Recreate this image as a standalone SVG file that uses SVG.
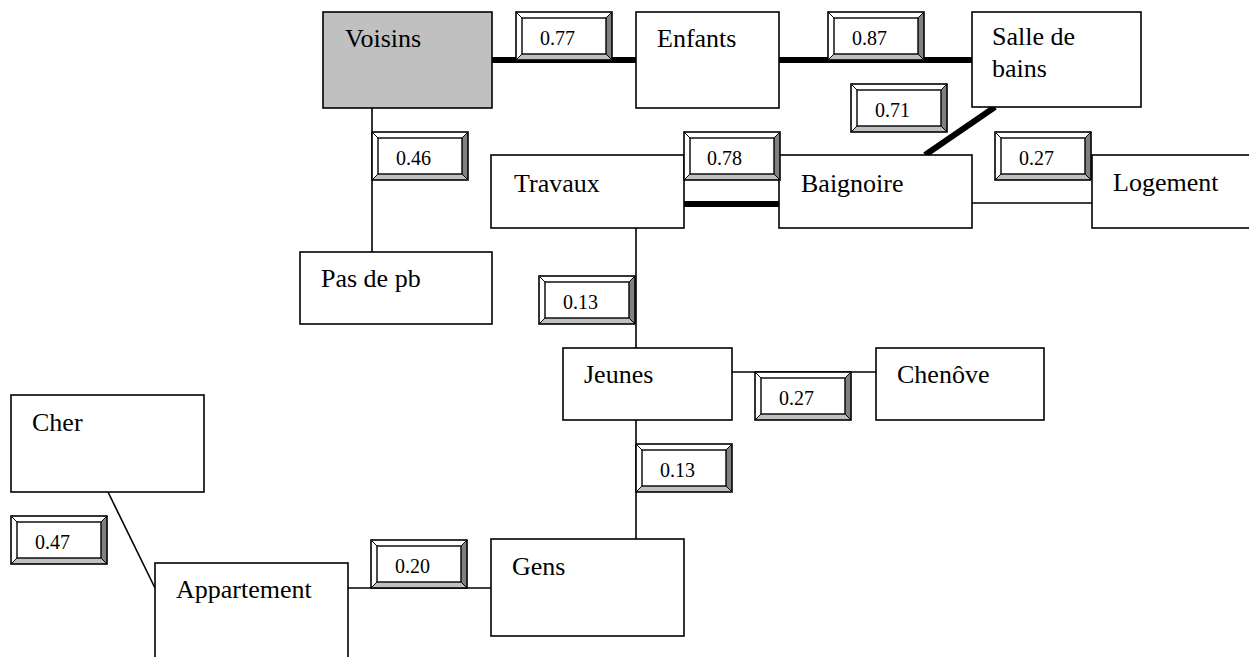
<svg xmlns="http://www.w3.org/2000/svg" xmlns:xlink="http://www.w3.org/1999/xlink" width="1249" height="657" viewBox="0 0 1249 657">
<style>
.node{fill:#fff;stroke:#000;stroke-width:1.6}
.grey{fill:#c0c0c0}
text{font-family:'Liberation Serif',serif;fill:#000}
.nt{font-size:26px}
.lt{font-size:20px}
.thin{stroke:#000;stroke-width:1.6;fill:none}
.thick{stroke:#000;stroke-width:6;fill:none}
</style>
<defs>
<g id="bev">
<polygon points="0,0 96,0 90,6 6,6" fill="#fff"/>
<polygon points="0,0 6,6 6,42 0,48" fill="#fff"/>
<polygon points="96,0 96,48 90,42 90,6" fill="#808080"/>
<polygon points="0,48 96,48 90,42 6,42" fill="#c0c0c0"/>
<rect x="6" y="6" width="84" height="36" fill="#fff" stroke="#000" stroke-width="1.4"/>
<path d="M0,0 L6,6 M96,0 L90,6 M96,48 L90,42 M0,48 L6,42" stroke="#000" stroke-width="1"/>
<rect x="0" y="0" width="96" height="48" fill="none" stroke="#000" stroke-width="1.6"/>
</g>
</defs>
<g id="connectors">
<line class="thick" x1="492" y1="60" x2="636" y2="60"/>
<line class="thick" x1="779" y1="60" x2="972" y2="60"/>
<line class="thick" x1="995" y1="107" x2="925" y2="155"/>
<line class="thick" x1="684" y1="204" x2="779" y2="204"/>
<line class="thin" x1="972" y1="203" x2="1092" y2="203"/>
<line class="thin" x1="372" y1="108" x2="372" y2="252"/>
<line class="thin" x1="636" y1="228" x2="636" y2="348"/>
<line class="thin" x1="732" y1="372" x2="876" y2="372"/>
<line class="thin" x1="636" y1="420" x2="636" y2="539"/>
<line class="thin" x1="348" y1="588" x2="491" y2="588"/>
<line class="thin" x1="108" y1="492" x2="155" y2="588"/>
</g>
<g id="n-voisins"><rect class="node grey" x="323" y="12" width="169" height="96"/><text class="nt" font-family="Liberation Serif" x="345" y="47">Voisins</text></g>
<g id="n-enfants"><rect class="node" x="636" y="12" width="143" height="96"/><text class="nt" font-family="Liberation Serif" x="657" y="47">Enfants</text></g>
<g id="n-salle"><rect class="node" x="972" y="12" width="169" height="95"/><text class="nt" font-family="Liberation Serif" x="992" y="45">Salle de</text><text class="nt" font-family="Liberation Serif" x="992" y="77">bains</text></g>
<g id="n-travaux"><rect class="node" x="491" y="155" width="193" height="73"/><text class="nt" font-family="Liberation Serif" x="514" y="192">Travaux</text></g>
<g id="n-baignoire"><rect class="node" x="779" y="155" width="193" height="73"/><text class="nt" font-family="Liberation Serif" x="801" y="192">Baignoire</text></g>
<g id="n-logement"><rect class="node" x="1092" y="155" width="170" height="73"/><text class="nt" font-family="Liberation Serif" x="1113" y="191">Logement</text></g>
<g id="n-pasdepb"><rect class="node" x="300" y="252" width="192" height="72"/><text class="nt" font-family="Liberation Serif" x="321" y="287">Pas de pb</text></g>
<g id="n-jeunes"><rect class="node" x="563" y="348" width="169" height="72"/><text class="nt" font-family="Liberation Serif" x="584" y="383">Jeunes</text></g>
<g id="n-chenove"><rect class="node" x="876" y="348" width="168" height="72"/><text class="nt" font-family="Liberation Serif" x="897" y="383">Chenôve</text></g>
<g id="n-cher"><rect class="node" x="11" y="395" width="193" height="97"/><text class="nt" font-family="Liberation Serif" x="32" y="431">Cher</text></g>
<g id="n-gens"><rect class="node" x="491" y="539" width="193" height="97"/><text class="nt" font-family="Liberation Serif" x="512" y="575">Gens</text></g>
<g id="n-appartement"><rect class="node" x="155" y="563" width="193" height="120"/><text class="nt" font-family="Liberation Serif" x="176" y="598">Appartement</text></g>
<g id="labels">
<g id="l-077"><use xlink:href="#bev" x="516" y="12"/><text class="lt" x="540" y="45">0.77</text></g>
<g id="l-087"><use xlink:href="#bev" x="828" y="12"/><text class="lt" x="852" y="45">0.87</text></g>
<g id="l-071"><use xlink:href="#bev" x="851" y="84"/><text class="lt" x="875" y="117">0.71</text></g>
<g id="l-078"><use xlink:href="#bev" x="684" y="132"/><text class="lt" x="707" y="165">0.78</text></g>
<g id="l-027a"><use xlink:href="#bev" x="995" y="132"/><text class="lt" x="1019" y="165">0.27</text></g>
<g id="l-046"><use xlink:href="#bev" x="372" y="132"/><text class="lt" x="396" y="165">0.46</text></g>
<g id="l-013a"><use xlink:href="#bev" x="539" y="276"/><text class="lt" x="563" y="309">0.13</text></g>
<g id="l-027b"><use xlink:href="#bev" x="755" y="372"/><text class="lt" x="779" y="405">0.27</text></g>
<g id="l-013b"><use xlink:href="#bev" x="636" y="444"/><text class="lt" x="660" y="477">0.13</text></g>
<g id="l-047"><use xlink:href="#bev" x="11" y="516"/><text class="lt" x="35" y="549">0.47</text></g>
<g id="l-020"><use xlink:href="#bev" x="371" y="540"/><text class="lt" x="395" y="573">0.20</text></g>
</g>
</svg>
